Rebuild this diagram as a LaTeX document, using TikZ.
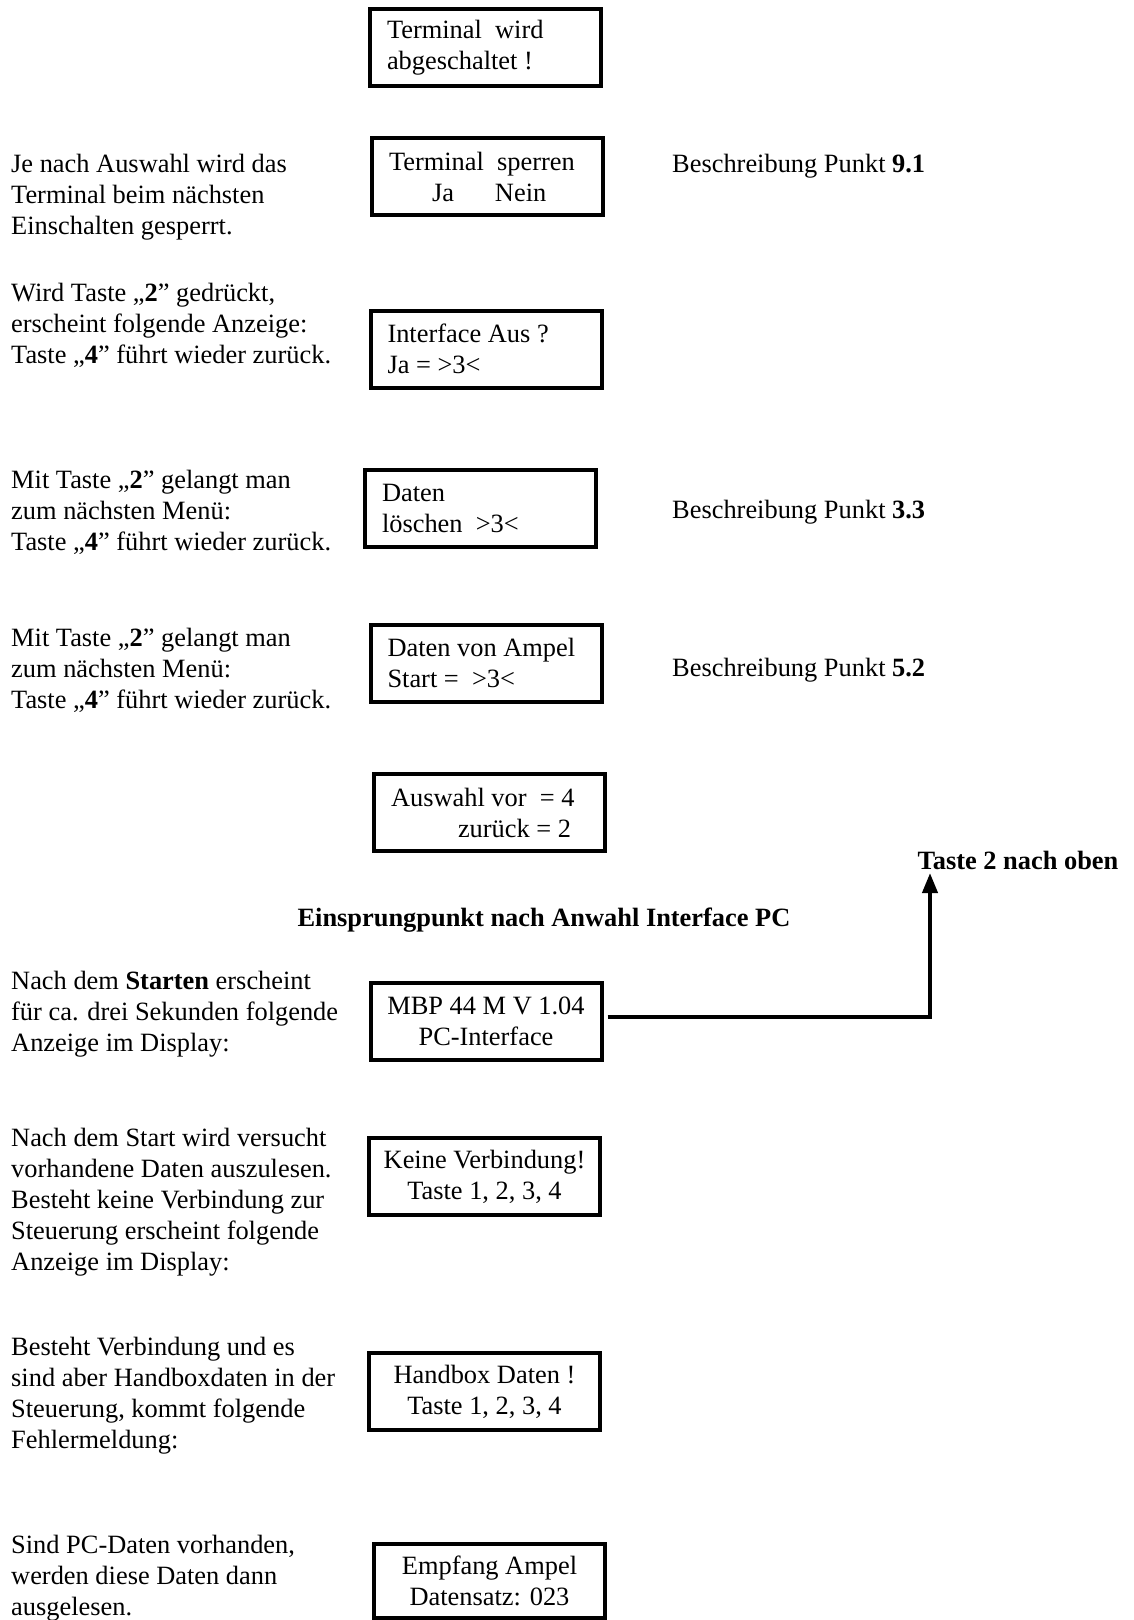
\documentclass[tikz,border=0pt]{standalone}
\usepackage{fontspec}
\setmainfont{Liberation Serif}
\usetikzlibrary{arrows.meta}
\begin{document}
\begin{tikzpicture}[x=1pt,y=-1pt,
  every node/.style={font=\fontsize{26.4}{31}\selectfont, inner sep=0pt},
  lcd/.style={draw, line width=4pt, minimum width=231pt, minimum height=77pt, inner xsep=17pt, inner ysep=0pt, text width=197pt, align=flush left},
  lcdc/.style={lcd, inner xsep=8pt, text width=215pt, align=flush center},
  note/.style={anchor=west, align=left},
  ref/.style={anchor=west},
  hdr/.style={font=\fontsize{26.4}{31}\selectfont\bfseries},
  conn/.style={line width=4pt, -{Triangle[length=20pt,width=15pt]}}]
\useasboundingbox (0,0) rectangle (1134,1620);

% display boxes
\node[lcd] (b1) at (485.5,47.5) {Terminal~ wird\\abgeschaltet !};
\node[lcd] (b2) at (487.5,176.5) {Terminal~ sperren\\\hspace*{43pt}Ja\hspace{41pt}Nein};
\node[lcd] (b3) at (486,349) {Interface Aus ?\\Ja = >3<};
\node[lcd] (b4) at (480.5,508.5) {Daten\\löschen~ >3<};
\node[lcd] (b5) at (486,663) {Daten von Ampel\\Start =~ >3<};
\node[lcd] (b6) at (489.5,812.5) {Auswahl vor~ = 4\\\hspace*{67pt}zurück = 2};
\node[lcdc] (mbp) at (486,1021) {MBP 44 M V 1.04\\PC-Interface};
\node[lcdc] (b8) at (484.5,1176.5) {Keine Verbindung!\\Taste 1, 2, 3, 4};
\node[lcdc] (b9) at (484.5,1391.5) {Handbox Daten !\\Taste 1, 2, 3, 4};
\node[lcdc, minimum height=74pt] (b10) at (489.5,1581) {Empfang Ampel\\Datensatz: 023};

% left notes
\node[note] (n1) at (11,197) {Je nach Auswahl wird das\\Terminal beim nächsten\\Einschalten gesperrt.};
\node[note] (n2) at (11,325) {Wird Taste „\textbf{2}” gedrückt,\\erscheint folgende Anzeige:\\Taste „\textbf{4}” führt wieder zurück.};
\node[note] (n3) at (11,512) {Mit Taste „\textbf{2}” gelangt man\\zum nächsten Menü:\\Taste „\textbf{4}” führt wieder zurück.};
\node[note] (n4) at (11,670) {Mit Taste „\textbf{2}” gelangt man\\zum nächsten Menü:\\Taste „\textbf{4}” führt wieder zurück.};
\node[note] (n5) at (11,1014) {Nach dem \textbf{Starten} erscheint\\für ca. drei Sekunden folgende\\Anzeige im Display:};
\node[note] (n6) at (11,1202) {Nach dem Start wird versucht\\vorhandene Daten auszulesen.\\Besteht keine Verbindung zur\\Steuerung erscheint folgende\\Anzeige im Display:};
\node[note] (n7) at (11,1395.5) {Besteht Verbindung und es\\sind aber Handboxdaten in der\\Steuerung, kommt folgende\\Fehlermeldung:};
\node[note] (n8) at (11,1578) {Sind PC-Daten vorhanden,\\werden diese Daten dann\\ausgelesen.};

% right references
\node[ref] (r1) at (672,166) {Beschreibung Punkt \textbf{9.1}};
\node[ref] (r2) at (672,512) {Beschreibung Punkt \textbf{3.3}};
\node[ref] (r3) at (672,670) {Beschreibung Punkt \textbf{5.2}};

% headers
\node[hdr] (h1) at (544,920) {Einsprungpunkt nach Anwahl Interface PC};
\node[hdr] (h2) at (1018,860) {Taste 2 nach oben};

% connector
\coordinate (turn) at (930,1017);
\coordinate (tip) at (930,873);
\draw[conn] ([xshift=4pt,yshift=4pt]mbp.east) -- (turn) -- (tip);
\end{tikzpicture}
\end{document}
